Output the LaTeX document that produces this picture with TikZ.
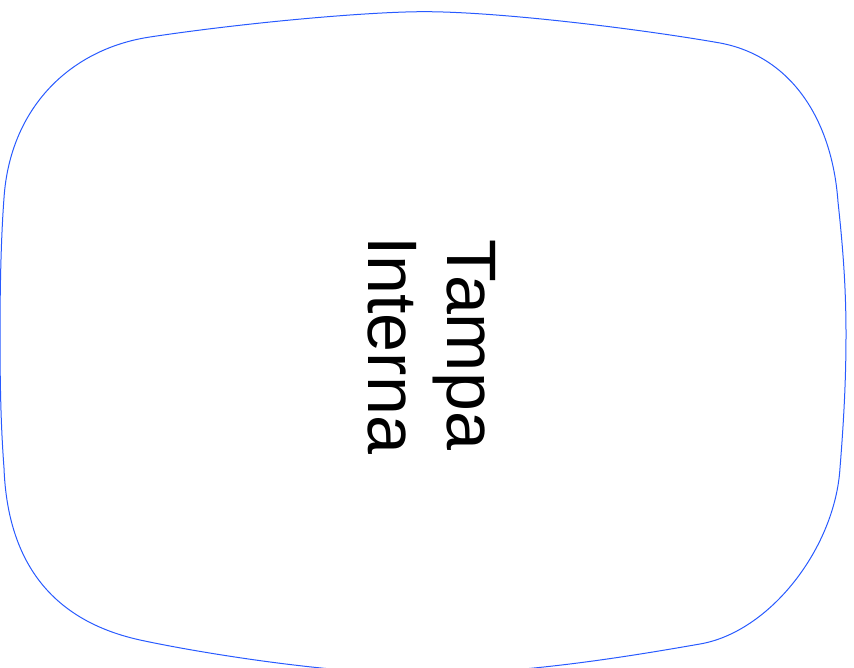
\documentclass[tikz,border=0pt]{standalone}
\usepackage{fontspec}
\setmainfont{Liberation Sans}
\definecolor{tampablue}{RGB}{40,90,255}
\begin{document}
\begin{tikzpicture}[x=1pt,y=1pt]
\useasboundingbox (0,0) rectangle (854,668);
\clip (0,0) rectangle (854,668);
\draw[tampablue,line width=1pt] (424,656.3)
  .. controls (370,656.3) and (250,646) .. (150,631)
  .. controls (70,619) and (10,560) .. (4,470)
  .. controls (1,430) and (0,380) .. (0,334)
  .. controls (0,280) and (1,240) .. (4,200)
  .. controls (7,120) and (40,50) .. (140,28)
  .. controls (200,15) and (330,-6) .. (423,-6)
  .. controls (520,-6) and (620,10) .. (700,24)
  .. controls (770,36) and (835,120) .. (840,200)
  .. controls (844,250) and (846,290) .. (846,334)
  .. controls (846,380) and (843,420) .. (838,466)
  .. controls (832,550) and (790,612) .. (720,625)
  .. controls (640,639) and (500,656.3) .. (424,656.3) -- cycle;
\node[rotate=-90,align=center,inner sep=0pt,font=\fontsize{70}{79}\selectfont] (label) at (432,323) {Tampa\\Interna};
\end{tikzpicture}
\end{document}
